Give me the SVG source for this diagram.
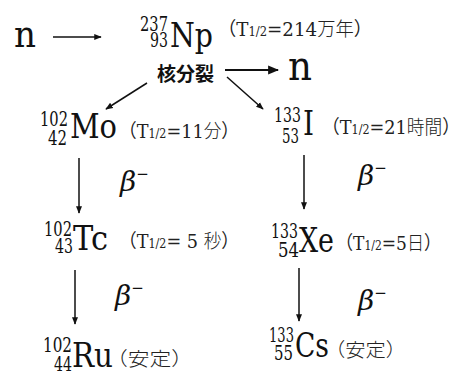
<svg xmlns="http://www.w3.org/2000/svg" width="462" height="376" viewBox="0 0 462 376">
<defs>
<style>
.sym{font-family:"DejaVu Serif",serif;font-size:33px;fill:#111}
.num{font-family:"DejaVu Serif",serif;font-size:20px;fill:#111;text-anchor:end}
.lbl{font-family:"DejaVu Serif","Noto Sans CJK JP",serif;font-size:19px;fill:#222}
.cjk{font-family:"Noto Sans CJK JP",sans-serif;font-weight:300}
.sub{font-size:12px}
.beta{font-family:"DejaVu Serif",serif;font-style:italic;font-size:28px;fill:#111}
.mn{font-style:normal;font-size:15px}
.big{font-family:"DejaVu Serif",serif;fill:#111}
.fis{font-family:"Noto Sans CJK JP",sans-serif;font-weight:700;font-size:19px;fill:#111}
.ln{stroke:#111;stroke-width:1.5;fill:none;marker-end:url(#ah)}
.lnb{stroke:#111;stroke-width:2.2;fill:none;marker-end:url(#ah)}
</style>
<marker id="ah" viewBox="0 0 10 10" refX="9" refY="5" markerWidth="5" markerHeight="5" orient="auto" markerUnits="strokeWidth">
<path d="M0,1 L10,5 L0,9 z" fill="#111"/>
</marker>
</defs>
<g id="n-in"><text class="big" font-size="37" x="14" y="47" textLength="22" lengthAdjust="spacingAndGlyphs">n</text></g>
<g id="Np">
<text class="num" x="168" y="31" textLength="28" lengthAdjust="spacingAndGlyphs">237</text>
<text class="num" x="168" y="47" textLength="18" lengthAdjust="spacingAndGlyphs">93</text>
<text class="sym" x="170" y="47" textLength="43" lengthAdjust="spacingAndGlyphs">Np</text>
<text class="lbl" x="218" y="36" textLength="154" lengthAdjust="spacingAndGlyphs">（T<tspan class="sub">1/2</tspan>=214<tspan class="cjk">万年</tspan>）</text>
</g>
<g id="fission"><text class="fis" x="157" y="81">核分裂</text></g>
<g id="n-out"><text class="big" font-size="41" x="288" y="80" textLength="24" lengthAdjust="spacingAndGlyphs">n</text></g>
<g id="Mo">
<text class="num" x="68" y="126" textLength="28" lengthAdjust="spacingAndGlyphs">102</text>
<text class="num" x="67" y="145" textLength="19" lengthAdjust="spacingAndGlyphs">42</text>
<text class="sym" x="70" y="138" textLength="47" lengthAdjust="spacingAndGlyphs">Mo</text>
<text class="lbl" x="119" y="138" textLength="120" lengthAdjust="spacingAndGlyphs">（T<tspan class="sub">1/2</tspan>=11<tspan class="cjk">分</tspan>）</text>
</g>
<g id="I">
<text class="num" x="301" y="122" textLength="27" lengthAdjust="spacingAndGlyphs">133</text>
<text class="num" x="299" y="143" textLength="17" lengthAdjust="spacingAndGlyphs">53</text>
<text class="sym" x="303" y="135" textLength="11" lengthAdjust="spacingAndGlyphs">I</text>
<text class="lbl" x="322" y="134" textLength="138" lengthAdjust="spacingAndGlyphs">（T<tspan class="sub">1/2</tspan>=21<tspan class="cjk">時間</tspan>）</text>
</g>
<g id="Tc">
<text class="num" x="72" y="236" textLength="28" lengthAdjust="spacingAndGlyphs">102</text>
<text class="num" x="73" y="253" textLength="18" lengthAdjust="spacingAndGlyphs">43</text>
<text class="sym" x="73" y="250" textLength="35" lengthAdjust="spacingAndGlyphs">Tc</text>
<text class="lbl" x="119" y="248" textLength="120" lengthAdjust="spacingAndGlyphs">（T<tspan class="sub">1/2</tspan>= 5 <tspan class="cjk">秒</tspan>）</text>
</g>
<g id="Xe">
<text class="num" x="298" y="238" textLength="27" lengthAdjust="spacingAndGlyphs">133</text>
<text class="num" x="299" y="257" textLength="21" lengthAdjust="spacingAndGlyphs">54</text>
<text class="sym" x="299" y="252" textLength="35" lengthAdjust="spacingAndGlyphs">Xe</text>
<text class="lbl" x="336" y="250" textLength="105" lengthAdjust="spacingAndGlyphs">（T<tspan class="sub">1/2</tspan>=5<tspan class="cjk">日</tspan>）</text>
</g>
<g id="Ru">
<text class="num" x="72" y="352" textLength="29" lengthAdjust="spacingAndGlyphs">102</text>
<text class="num" x="72" y="371" textLength="18" lengthAdjust="spacingAndGlyphs">44</text>
<text class="sym" x="72" y="367" textLength="41" lengthAdjust="spacingAndGlyphs">Ru</text>
<text class="lbl" x="106" y="366" textLength="87" lengthAdjust="spacingAndGlyphs"><tspan class="cjk">（安定）</tspan></text>
</g>
<g id="Cs">
<text class="num" x="294" y="342" textLength="25" lengthAdjust="spacingAndGlyphs">133</text>
<text class="num" x="293" y="360" textLength="19" lengthAdjust="spacingAndGlyphs">55</text>
<text class="sym" x="295" y="357" textLength="34" lengthAdjust="spacingAndGlyphs">Cs</text>
<text class="lbl" x="325" y="357" textLength="81" lengthAdjust="spacingAndGlyphs"><tspan class="cjk">（安定）</tspan></text>
</g>
<g id="betas">
<text class="beta" x="120" y="191">β<tspan class="mn" dy="-12">−</tspan></text>
<text class="beta" x="358" y="185">β<tspan class="mn" dy="-12">−</tspan></text>
<text class="beta" x="115" y="305">β<tspan class="mn" dy="-12">−</tspan></text>
<text class="beta" x="358" y="310">β<tspan class="mn" dy="-12">−</tspan></text>
</g>
<g id="connectors">
<line class="ln" x1="53" y1="37" x2="101" y2="37"/>
<line class="lnb" x1="225" y1="70" x2="278" y2="70"/>
<line class="ln" x1="147" y1="83" x2="106" y2="109"/>
<line class="ln" x1="227" y1="77" x2="263" y2="109"/>
<line class="ln" x1="79" y1="158" x2="79" y2="213"/>
<line class="ln" x1="304" y1="155" x2="304" y2="209"/>
<line class="ln" x1="75" y1="270" x2="75" y2="324"/>
<line class="ln" x1="299" y1="268" x2="299" y2="321"/>
</g>
</svg>
